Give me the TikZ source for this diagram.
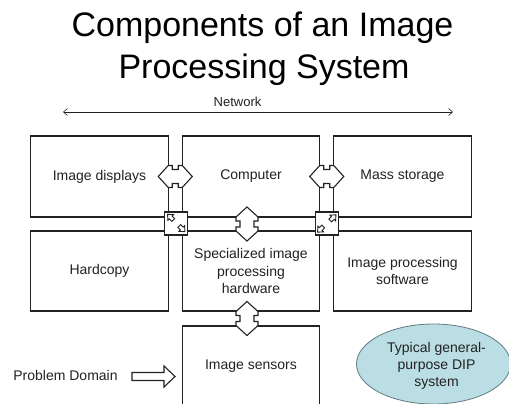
\documentclass[tikz,border=0pt]{standalone}
\usepackage{fontspec}
\setmainfont{Liberation Sans}
\usetikzlibrary{arrows.meta,calc,shapes.geometric}
\definecolor{ink}{HTML}{222222}
\definecolor{dipfill}{RGB}{187,222,228}
\definecolor{dipline}{RGB}{95,125,130}
\begin{document}
\begin{tikzpicture}[x=1pt,y=-1pt,
  blockbox/.style={draw=ink, line width=1.2pt, fill=white, minimum width=137.5pt,
    minimum height=81pt, inner sep=0pt, align=center,
    font=\fontsize{14}{17.5}\selectfont, text=ink},
  busarrow/.style={draw=ink, line width=1.1pt, fill=white, line join=miter},
  junction/.style={draw=ink, line width=1.1pt, fill=white, minimum size=23pt, inner sep=0pt},
  dblarrow/.pic={\path[busarrow] (0,-17) -- (-11,-7) -- (-11,-3) -- (-7,-3) -- (-7,3)
      -- (-11,3) -- (-11,7) -- (0,17) -- (11,7) -- (11,3) -- (7,3) -- (7,-3)
      -- (11,-3) -- (11,-7) -- cycle;},
  tinyarrow/.pic={\path[busarrow, line width=0.9pt] (0,-4.5) -- (4,0) -- (2,0) -- (2,3.5)
      -- (-2,3.5) -- (-2,0) -- (-4,0) -- cycle;},
  lbl/.style={font=\fontsize{14}{17}\selectfont, text=ink, inner sep=0pt},
]
\clip (0,0) rectangle (509,404);
\fill[white] (0,0) rectangle (509,404);

% title
\node[anchor=base, font=\fontsize{34}{41}\selectfont, inner sep=0pt] (t1) at (262.5,37) {Components of an Image};
\node[anchor=base, font=\fontsize{34}{41}\selectfont, inner sep=0pt] (t2) at (264,78) {Processing System};

% network
\coordinate (netL) at (63,112);
\coordinate (netR) at (453,112);
\draw[ink, line width=0.6pt, {Straight Barb[length=4pt,width=7pt]}-{Straight Barb[length=4pt,width=7pt]}] (netL) -- (netR);
\node[anchor=base, font=\fontsize{13}{15}\selectfont, text=ink, inner sep=0pt] (net) at (237.5,106.5) {Network};

% boxes
\node[blockbox] (disp) at (99.5,176.5) {Image displays};
\node[blockbox] (comp) at (251,176.5) {Computer};
\node[blockbox] (mass) at (402.5,176.5) {Mass storage};
\node[blockbox, minimum height=80pt] (hard) at (99.5,271) {Hardcopy};
\node[blockbox, minimum height=80pt] (spec) at (251,271) {Specialized image\\processing\\hardware};
\node[blockbox, minimum height=80pt] (soft) at (402.5,271) {Image processing\\software};
\node[blockbox] (sens) at (251,366.5) {Image sensors};

% bus arrows
\pic[rotate=90] at ($(disp.east)!0.5!(comp.west)$) {dblarrow};
\pic[rotate=90] at ($(comp.east)!0.5!(mass.west)$) {dblarrow};
\pic at ($(comp.south)!0.5!(spec.north)+(-4,0)$) {dblarrow};
\pic at ($(spec.south)!0.5!(sens.north)+(-4,0)$) {dblarrow};

% junctions
\node[junction] (jl) at ($(disp.south east)!0.5!(spec.north west)+(0.5,-0.5)$) {};
\node[junction] (jr) at ($(comp.south east)!0.5!(soft.north west)+(0,-0.5)$) {};
\pic[rotate=45] at ($(jl)+(-5,-6)$) {tinyarrow};
\pic[rotate=-135] at ($(jl)+(6,5)$) {tinyarrow};
\pic[rotate=-45] at ($(jr)+(6,-5.5)$) {tinyarrow};
\pic[rotate=135] at ($(jr)+(-6,5.5)$) {tinyarrow};

% problem domain
\node[anchor=base, lbl] (pd) at (65.5,380.5) {Problem Domain};
\coordinate (pdtail) at (132,376.5);
\coordinate (pdtip) at (175,376.5);
\draw[ink, line width=1.1pt, fill=white, line join=miter]
  ($(pdtail)+(0,-4)$) -- ($(pdtip)+(-11,-4)$) -- ($(pdtip)+(-11,-10.5)$) -- (pdtip)
  -- ($(pdtip)+(-11,10.5)$) -- ($(pdtip)+(-11,4)$) -- ($(pdtail)+(0,4)$) -- cycle;

% DIP ellipse
\node[ellipse, draw=dipline, fill=dipfill, line width=0.8pt, minimum width=154pt,
  minimum height=80pt, inner sep=0pt] (dip) at (433.5,364) {};
\node[lbl, align=center] (diplbl) at (436.5,366) {Typical general-\\purpose DIP\\system};
\end{tikzpicture}
\end{document}
